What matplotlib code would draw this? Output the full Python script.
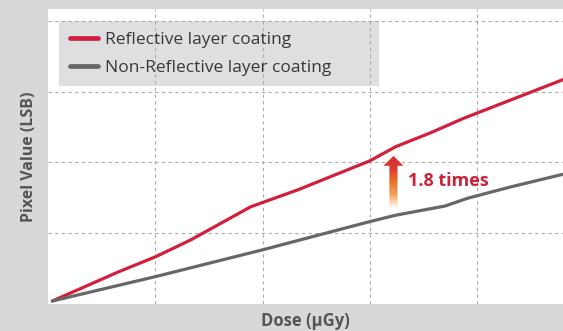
import numpy as np
import matplotlib.pyplot as plt
from matplotlib.patches import Polygon, Rectangle
from matplotlib.colors import LinearSegmentedColormap

plt.rcParams['font.family'] = ['Open Sans', 'DejaVu Sans']

# data (arbitrary dose / pixel units)
dose_reflective = [0.04, 0.66, 1.00, 1.33, 1.89, 2.33, 3.00, 3.24, 3.57, 3.87, 4.80]
pix_reflective = [0.035, 0.45, 0.66, 0.90, 1.37, 1.61, 2.02, 2.22, 2.42, 2.62, 3.17]
dose_nonreflective = [0.04, 1.00, 2.00, 3.00, 3.24, 3.70, 3.91, 4.31, 4.80]
pix_nonreflective = [0.035, 0.38, 0.76, 1.16, 1.25, 1.38, 1.49, 1.65, 1.83]
labels = ['Reflective layer coating', 'Non-Reflective layer coating']
ratio_text = '1.8 times'
grid_ticks_x = [1, 2, 3, 4]
grid_ticks_y = [1, 2, 3, 4]

red = '#d11f3c'
gray = '#67676b'
bg = '#d7d8da'

fig = plt.figure(figsize=(5.63, 3.31), dpi=100, facecolor=bg)
ax = fig.add_axes([48 / 563, 27.5 / 331, 515 / 563, 294.5 / 331])
ax.set_facecolor('white')

ax.set_xticks(grid_ticks_x)
ax.set_yticks(grid_ticks_y)
ax.tick_params(length=0, labelbottom=False, labelleft=False)
ax.grid(True, color='#aaaaaa', linestyle=(0, (3, 3)), linewidth=0.8)
for s in ax.spines.values():
    s.set_visible(False)

ax.plot(dose_reflective, pix_reflective, color=red, lw=2.3, solid_capstyle='round', label=labels[0], zorder=3)
ax.plot(dose_nonreflective, pix_nonreflective, color=gray, lw=2.3, solid_capstyle='round', label=labels[1], zorder=3)

# legend box behind the grid
ax.add_patch(Rectangle((0.0204, 0.738), 0.623, 0.221, transform=ax.transAxes,
                       facecolor='#dedfe1', edgecolor='none', zorder=1))
leg = ax.legend(loc='upper left', bbox_to_anchor=(0.043, 0.922), frameon=False,
                fontsize=12.5, handlelength=1.6, handletextpad=0.42, labelspacing=0.68,
                borderaxespad=0, borderpad=0.0)
for line in leg.get_lines():
    line.set_linewidth(3.4)
    line.set_solid_capstyle('round')
for t in leg.get_texts():
    t.set_color('#383838')

# gradient arrow
ax_x = 3.22
y0, y1 = 1.35, 2.09
shaft = 0.038
head = 0.094
head_len = 0.14
arrow = Polygon([(ax_x - shaft, y0), (ax_x + shaft, y0), (ax_x + shaft, y1 - head_len),
                 (ax_x + head, y1 - head_len), (ax_x, y1), (ax_x - head, y1 - head_len),
                 (ax_x - shaft, y1 - head_len)], closed=True, facecolor='none',
                edgecolor='none', transform=ax.transData)
ax.add_patch(arrow)
cmap = LinearSegmentedColormap.from_list('arr', ['#ffffff', '#f2a25a', '#e8722c', '#dc3a30', '#d82a36'])
grad = np.linspace(0, 1, 256).reshape(-1, 1)
im = ax.imshow(grad, cmap=cmap, origin='lower', aspect='auto',
               extent=(ax_x - head, ax_x + head, y0, y1), zorder=4)
im.set_clip_path(arrow)
ax.set_xlim(0, 4.80)
ax.set_ylim(0, 4.17)

ax.text(3.355, 1.735, ratio_text, color='#c8243c', fontsize=13, fontweight='bold',
        va='center', ha='left', zorder=5)

ax.set_xlabel('Dose (µGy)', fontsize=12, fontweight='bold', color='#555558', labelpad=6)
ax.set_ylabel('Pixel Value (LSB)', fontsize=11.5, fontweight='bold', color='#555558', labelpad=8)

fig.savefig('out.png', dpi=100, facecolor=bg)
